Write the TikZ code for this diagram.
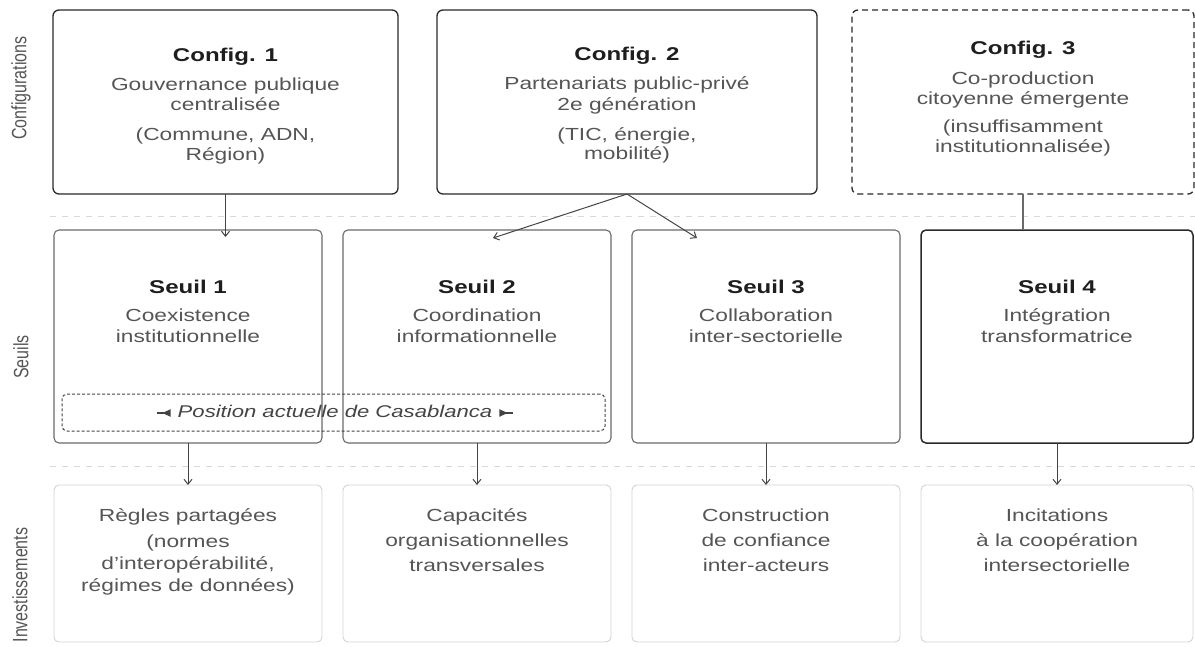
\documentclass[tikz,border=0pt]{standalone}
\usepackage{fontspec}
\setmainfont[FakeStretch=1.3]{Liberation Sans}
\newfontfamily\labelfont{Liberation Sans}
\usetikzlibrary{arrows.meta,calc}
\definecolor{dark}{HTML}{2A2A2A}
\definecolor{midgray}{HTML}{6A6A6A}
\definecolor{lightbox}{HTML}{D2D2D2}
\definecolor{sepgray}{HTML}{D8D8D8}
\definecolor{bodytext}{HTML}{555555}
\definecolor{titletext}{HTML}{1E1E1E}
\definecolor{arrowgray}{HTML}{444444}
\tikzset{
  boxbase/.style={rectangle, rounded corners=6pt, inner sep=0pt, outer sep=0pt},
  cfgbox/.style={boxbase, draw=dark, line width=1.3pt},
  cfgdash/.style={boxbase, draw=dark, line width=1.3pt, dash pattern=on 6pt off 4pt},
  seuilbox/.style={boxbase, rounded corners=5pt, draw=midgray, line width=1.1pt},
  seuilstrong/.style={boxbase, rounded corners=5pt, draw=dark, line width=1.5pt},
  invbox/.style={boxbase, rounded corners=5pt, draw=lightbox, line width=0.9pt},
  posbox/.style={boxbase, rounded corners=5pt, draw=arrowgray, line width=1pt, dash pattern=on 3pt off 2pt},
  ttl/.style={font=\bfseries\fontsize{18.5}{18.5}\selectfont, text=titletext, inner sep=0pt, text height=13pt, text depth=3pt},
  body/.style={font=\fontsize{17.5}{17.5}\selectfont, text=bodytext, inner sep=0pt, text height=12.5pt, text depth=3.5pt},
  postext/.style={font=\itshape\fontsize{17}{17}\selectfont, text=arrowgray, inner sep=0pt, text height=12.5pt, text depth=3.5pt},
  rowlabel/.style={font=\labelfont\fontsize{16}{16}\selectfont, text=bodytext, inner sep=0pt, rotate=90},
  arr/.style={draw=arrowgray, line width=1pt, -{Straight Barb[length=5pt,width=8pt]}},
  plainline/.style={draw=midgray, line width=1.2pt},
  sepline/.style={draw=sepgray, line width=0.8pt, dash pattern=on 6pt off 6pt},
  glyphline/.style={draw=arrowgray, line width=1.3pt},
  glyphtri/.style={fill=arrowgray}
}
\begin{document}
\begin{tikzpicture}[x=1pt,y=-1pt]
\useasboundingbox (0,0) rectangle (1195,646);

% separators
\coordinate (sepAl) at (50,216);
\coordinate (sepAr) at (1195,216);
\coordinate (sepBl) at (50,466);
\coordinate (sepBr) at (1195,466);
\draw[sepline] (sepAl) -- (sepAr);
\draw[sepline] (sepBl) -- (sepBr);

% row labels
\node[rowlabel] (lconf) at (21,88) {\scalebox{1}[1.3]{Configurations}};
\node[rowlabel] (lseuil) at (21,357) {\scalebox{1}[1.3]{Seuils}};
\node[rowlabel] (linv) at (20,585) {\scalebox{1}[1.3]{Investissements}};

% configuration boxes
\node[cfgbox, minimum width=345pt, minimum height=184pt] (c1) at (225.5,102) {};
\node[cfgbox, minimum width=380pt, minimum height=184pt] (c2) at (627,102) {};
\node[cfgdash, minimum width=342pt, minimum height=184pt] (c3) at (1023,102) {};

\node[ttl] (c1t) at (225.5,56) {Config. 1};
\node[body] (c1a) at (225.5,86) {Gouvernance publique};
\node[body] (c1b) at (225.5,106) {centralisée};
\node[body] (c1c) at (225.5,136) {(Commune, ADN,};
\node[body] (c1d) at (225.5,156) {Région)};

\node[ttl] (c2t) at (627,55) {Config. 2};
\node[body] (c2a) at (627,85) {Partenariats public-privé};
\node[body] (c2b) at (627,106) {2e génération};
\node[body] (c2c) at (627,136) {(TIC, énergie,};
\node[body] (c2d) at (627,155) {mobilité)};

\node[ttl] (c3t) at (1023,49) {Config. 3};
\node[body] (c3a) at (1023,80) {Co-production};
\node[body] (c3b) at (1023,100) {citoyenne émergente};
\node[body] (c3c) at (1023,128) {(insuffisamment};
\node[body] (c3d) at (1023,148) {institutionnalisée)};

% seuil boxes
\node[seuilbox, minimum width=268pt, minimum height=213pt] (s1) at (188,336.5) {};
\node[seuilbox, minimum width=268pt, minimum height=213pt] (s2) at (477,336.5) {};
\node[seuilbox, minimum width=268pt, minimum height=213pt] (s3) at (766,336.5) {};
\node[seuilstrong, minimum width=272pt, minimum height=213pt] (s4) at (1057,336.5) {};

\node[ttl] (s1t) at (188,288) {Seuil 1};
\node[body] (s1a) at (188,317) {Coexistence};
\node[body] (s1b) at (188,338) {institutionnelle};

\node[ttl] (s2t) at (477,288) {Seuil 2};
\node[body] (s2a) at (477,317) {Coordination};
\node[body] (s2b) at (477,338) {informationnelle};

\node[ttl] (s3t) at (766,288) {Seuil 3};
\node[body] (s3a) at (766,317) {Collaboration};
\node[body] (s3b) at (766,338) {inter-sectorielle};

\node[ttl] (s4t) at (1057,288) {Seuil 4};
\node[body] (s4a) at (1057,317) {Intégration};
\node[body] (s4b) at (1057,338) {transformatrice};

% current position box
\node[posbox, minimum width=543pt, minimum height=37pt] (pos) at (333.5,412.5) {};
\node[postext] (post) at (335,413) {Position actuelle de Casablanca};
% arrow-tail symbols drawn as shapes (no installed font has them)
\coordinate (gl) at ($(post.west)+(-7,0)$);
\coordinate (gr) at ($(post.east)+(7,0)$);
\draw[glyphline] ($(gl)+(-14,0)$) -- ($(gl)+(-5,0)$);
\fill[glyphtri] ($(gl)+(-8,0)$) -- ($(gl)+(0,-3.8)$) -- ($(gl)+(0,3.8)$) -- cycle;
\fill[glyphtri] ($(gr)+(8,0)$) -- ($(gr)+(0,-3.8)$) -- ($(gr)+(0,3.8)$) -- cycle;
\draw[glyphline] ($(gr)+(5,0)$) -- ($(gr)+(14,0)$);

% investment boxes
\node[invbox, minimum width=268pt, minimum height=157pt] (i1) at (188,563.5) {};
\node[invbox, minimum width=268pt, minimum height=157pt] (i2) at (477,563.5) {};
\node[invbox, minimum width=268pt, minimum height=157pt] (i3) at (766,563.5) {};
\node[invbox, minimum width=272pt, minimum height=157pt] (i4) at (1057,563.5) {};

\node[body] (i1a) at (188,517) {Règles partagées};
\node[body] (i1b) at (188,543) {(normes};
\node[body] (i1c) at (188,565) {d’interopérabilité,};
\node[body] (i1d) at (188,587) {régimes de données)};

\node[body] (i2a) at (477,517) {Capacités};
\node[body] (i2b) at (477,542) {organisationnelles};
\node[body] (i2c) at (477,567) {transversales};

\node[body] (i3a) at (766,517) {Construction};
\node[body] (i3b) at (766,542) {de confiance};
\node[body] (i3c) at (766,567) {inter-acteurs};

\node[body] (i4a) at (1057,517) {Incitations};
\node[body] (i4b) at (1057,542) {à la coopération};
\node[body] (i4c) at (1057,567) {intersectorielle};

% connectors
\coordinate (a1) at ($(c1.south |- s1.north)+(0,7)$);
\coordinate (a2) at ($(s2.north)+(16,8)$);
\coordinate (a3) at ($(s3.north)+(-69,8)$);
\draw[arr] (c1.south) -- (a1);
\draw[arr] (c2.south) -- (a2);
\draw[arr] (c2.south) -- (a3);
\draw[plainline] (c3.south) -- (s4.north -| c3.south);

\draw[arr] (s1.south) -- (i1.north);
\draw[arr] (s2.south) -- (i2.north);
\draw[arr] (s3.south) -- (i3.north);
\draw[arr] (s4.south) -- (i4.north);
\end{tikzpicture}
\end{document}
